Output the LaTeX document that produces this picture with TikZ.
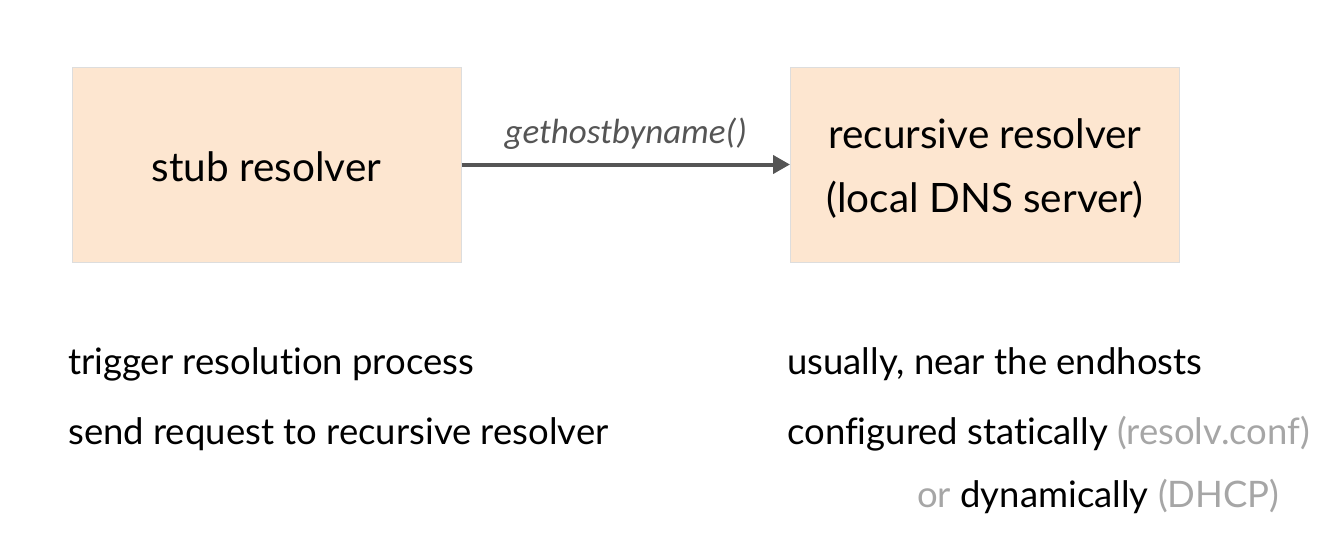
\documentclass[tikz,border=0pt]{standalone}
\usepackage{fontspec}
\setmainfont[Ligatures=NoCommon]{Lato}
\newfontfamily\labelfont{Carlito}
\usetikzlibrary{arrows.meta}
\definecolor{boxfill}{HTML}{FDE6D0}
\definecolor{boxline}{HTML}{DDDDDD}
\definecolor{arrowgray}{HTML}{555555}
\definecolor{softgray}{HTML}{A6A6A6}
\tikzset{
  box/.style={draw=boxline, line width=1pt, fill=boxfill, minimum width=389pt, minimum height=195pt, inner sep=0pt},
  boxtext/.style={inner sep=0pt, align=center, font=\fontsize{40.5pt}{64pt}\selectfont},
  note/.style={anchor=base west, inner sep=0pt, font=\fontsize{36.5pt}{42pt}\selectfont},
  conn/.style={draw=arrowgray, line width=4pt, -{Triangle[length=17pt,width=18pt]}},
}
\begin{document}
\begin{tikzpicture}[x=1pt,y=-1pt]
\useasboundingbox (0,0) rectangle (1343,541);
\node[box] (stub) at (266.5,164.5) {};
\node[box] (rec) at (985,164.5) {};
\node[boxtext] (stubtext) at ([yshift=-2pt]stub.center) {stub resolver};
\node[boxtext] (rectext) at ([yshift=-4pt]rec.center) {recursive resolver\\(local DNS server)};
\draw[conn] (stub.east) -- node[above=10pt, font=\labelfont\itshape\fontsize{35pt}{40pt}\selectfont, text=arrowgray] (lbl) {gethostbyname()} (rec.west);
\node[note] (t1) at (68,374) {trigger resolution process};
\node[note] (t2) at (68,444) {send request to recursive resolver};
\node[note] (t3) at (787,374) {usually, near the endhosts};
\node[note] (t4) at (787,444) {configured statically \textcolor{softgray}{(resolv.conf)}};
\node[note] (t5) at (917,507) {\textcolor{softgray}{or} dynamically \textcolor{softgray}{(DHCP)}};
\end{tikzpicture}
\end{document}
